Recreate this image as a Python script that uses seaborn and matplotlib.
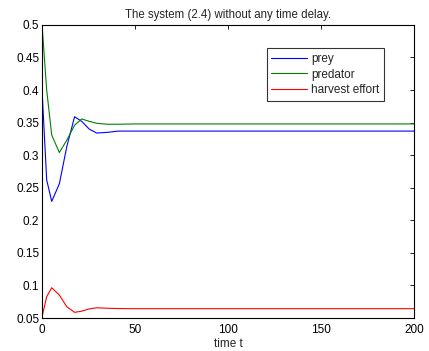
import matplotlib
matplotlib.use("Agg")
import matplotlib.pyplot as plt
import seaborn as sns
import pandas as pd

t = [0, 2.5, 5.2, 9.3, 13.3, 17.5, 21.3, 25.4, 29.4, 35, 41, 50, 60, 80, 100, 120, 140, 160, 180, 200]
prey = [0.40, 0.262, 0.229, 0.256, 0.313, 0.359, 0.352, 0.340, 0.334, 0.335, 0.337, 0.337, 0.337, 0.337, 0.337, 0.337, 0.337, 0.337, 0.337, 0.337]
predator = [0.50, 0.40, 0.331, 0.304, 0.323, 0.346, 0.3556, 0.352, 0.349, 0.3475, 0.3475, 0.348, 0.348, 0.348, 0.348, 0.348, 0.348, 0.348, 0.348, 0.348]
effort = [0.052, 0.0826, 0.0965, 0.0853, 0.0673, 0.0587, 0.0605, 0.0640, 0.0657, 0.0650, 0.0645, 0.0643, 0.0643, 0.0643, 0.0643, 0.0643, 0.0643, 0.0643, 0.0643, 0.0643]
series_names = ["prey", "predator", "harvest effort"]
colors = ["#0000ff", "#008000", "#ff0000"]

sns.set_style("white")
plt.rcParams['font.family'] = ['Liberation Sans', 'DejaVu Sans']

df = pd.concat([
    pd.DataFrame({"t": t, "value": v, "series": n})
    for v, n in zip([prey, predator, effort], series_names)
])

fig = plt.figure(figsize=(4.29, 3.51), dpi=100)
ax = fig.add_axes([0.098, 0.094, 0.867, 0.835])
sns.lineplot(data=df, x="t", y="value", hue="series", palette=colors,
             hue_order=series_names, ax=ax, linewidth=0.8, sort=False)

ax.set_xlim(0, 200)
ax.set_ylim(0.05, 0.5)
ax.set_xticks([0, 50, 100, 150, 200])
ax.set_yticks([0.05, 0.1, 0.15, 0.2, 0.25, 0.3, 0.35, 0.4, 0.45, 0.5])
ax.set_yticklabels(["0.05", "0.1", "0.15", "0.2", "0.25", "0.3", "0.35", "0.4", "0.45", "0.5"])
ax.tick_params(direction="in", top=True, right=True, labelsize=8.5, length=3, width=0.6, colors="black")
ax.tick_params(axis="x", pad=4)
ax.tick_params(axis="y", pad=2)
for s in ax.spines.values():
    s.set_color("black")
    s.set_linewidth(0.8)
ax.set_xlabel("time t", fontsize=8.5, labelpad=2)
ax.set_ylabel("")
ax.set_title("The system (2.4) without any time delay.", fontsize=8.3, pad=5)

leg = ax.legend(loc="upper right", bbox_to_anchor=(0.919, 0.92), fontsize=8.5,
                frameon=True, fancybox=False, borderpad=0.4, labelspacing=0.3,
                handlelength=3.0, handletextpad=0.35, borderaxespad=0)
leg.get_frame().set_edgecolor("black")
leg.get_frame().set_linewidth(0.8)
leg.set_title(None)

fig.savefig("out.png", dpi=100)
